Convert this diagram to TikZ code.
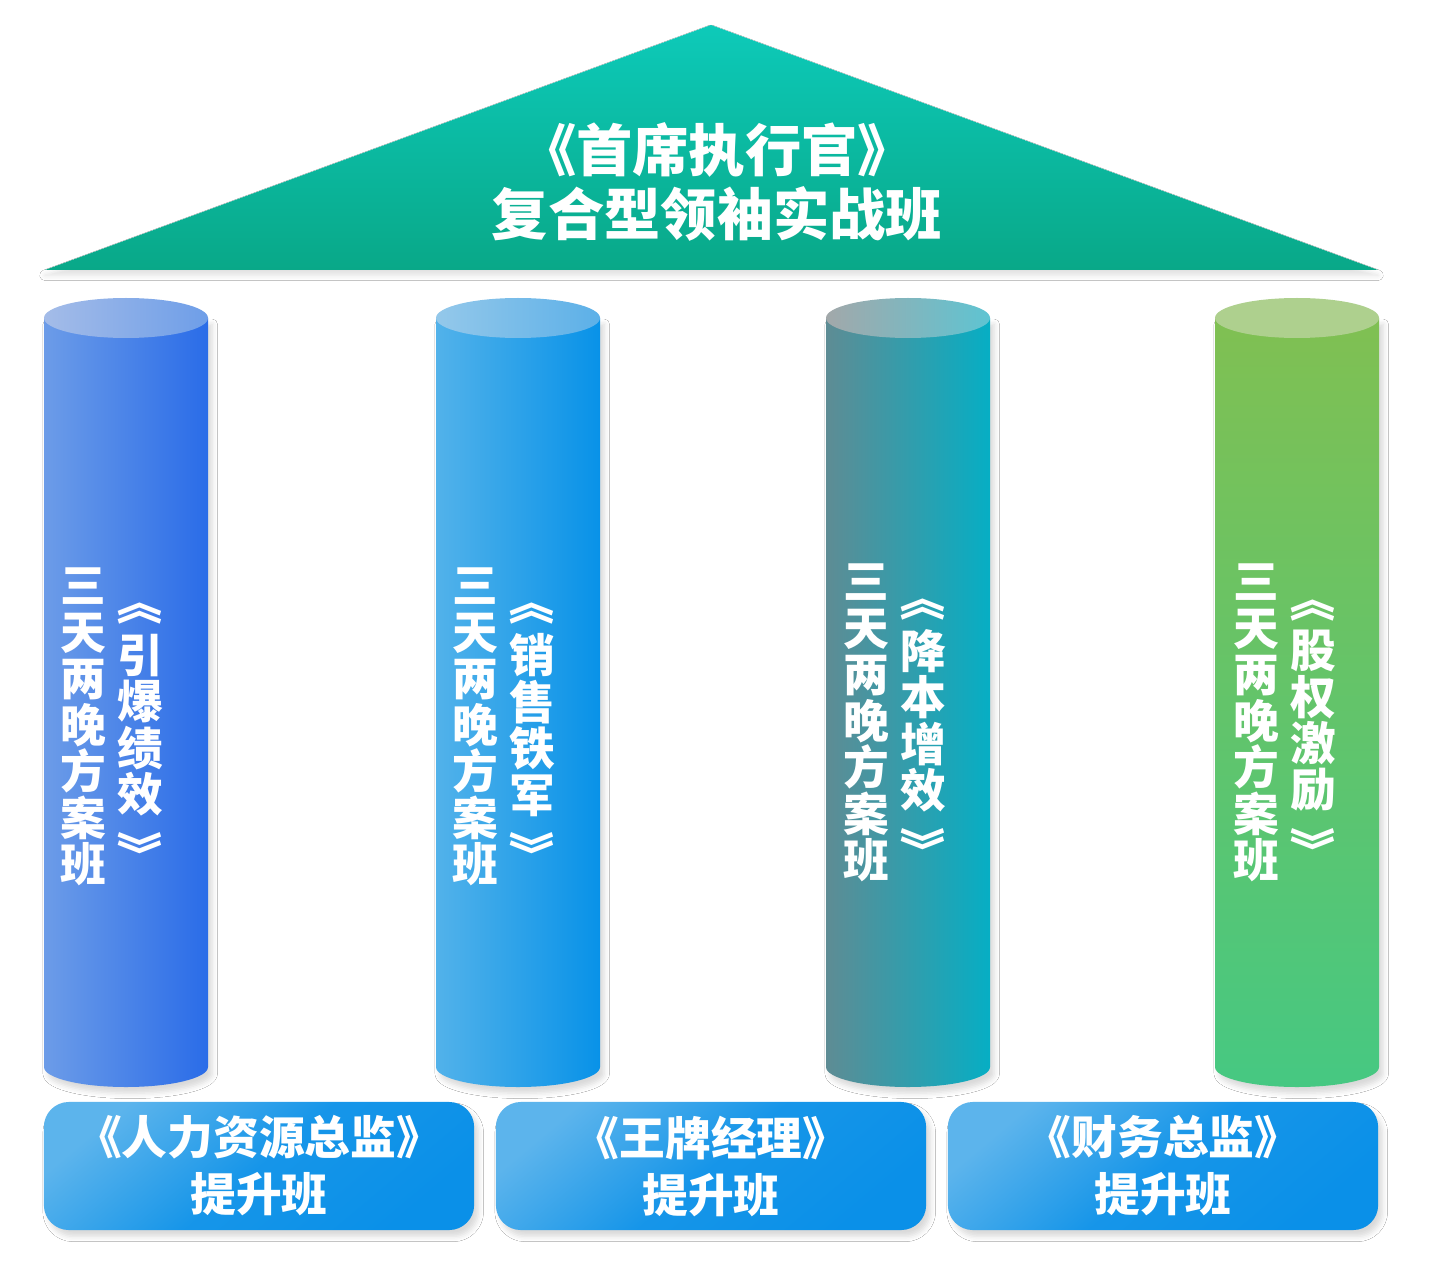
\documentclass[tikz,border=0pt]{standalone}
\usepackage{fontspec}
\setmainfont{Noto Sans CJK SC}
\usetikzlibrary{shadows.blur,positioning}

\definecolor{rooftop}{HTML}{0DCAB9}
\definecolor{roofbot}{HTML}{09A888}
\definecolor{sideAl}{HTML}{6C9CE8}
\definecolor{sideAr}{HTML}{2A6CE8}
\definecolor{capAl}{HTML}{A4BCE8}
\definecolor{capAr}{HTML}{6E9EE8}
\definecolor{sideBl}{HTML}{52B2EA}
\definecolor{sideBr}{HTML}{0892E8}
\definecolor{capBl}{HTML}{94C8EA}
\definecolor{capBr}{HTML}{5CB0E8}
\definecolor{sideCl}{HTML}{5E8C94}
\definecolor{sideCr}{HTML}{06AEC4}
\definecolor{capCl}{HTML}{A2A8AA}
\definecolor{capCr}{HTML}{5EC4D2}
\definecolor{sideDt}{HTML}{80C052}
\definecolor{sideDb}{HTML}{46C882}
\definecolor{capD}{HTML}{AED08E}
\definecolor{boxlt}{HTML}{5CB4EC}
\definecolor{boxdk}{HTML}{0A90E8}

\tikzset{
  colshadow/.style={blur shadow={shadow xshift=1.2pt,shadow yshift=-1.8pt,shadow opacity=15,shadow blur steps=4,shadow blur radius=1.5pt}},
  side1/.style={left color=sideAl,right color=sideAr},
  cap1/.style={left color=capAl,right color=capAr},
  side2/.style={left color=sideBl,right color=sideBr},
  cap2/.style={left color=capBl,right color=capBr},
  side3/.style={left color=sideCl,right color=sideCr},
  cap3/.style={left color=capCl,right color=capCr},
  side4/.style={top color=sideDt,bottom color=sideDb},
  cap4/.style={left color=capD,right color=capD},
  vtext/.style={text=white,align=center,inner sep=0pt,font=\fontsize{13}{13.2}\selectfont\bfseries},
  vbrk/.style={vtext,rotate=-90},
  pbox/.style={rounded corners=0.25cm,top color=boxlt,bottom color=boxdk,middle color=boxdk!85!boxlt,shading angle=40,
    minimum width=4.3cm,minimum height=1.28cm,text=white,align=center,
    font=\fontsize{13}{16.2}\selectfont\bfseries,colshadow},
}

\begin{document}
\begin{tikzpicture}[x=0.01cm,y=0.01cm]
  \fill[white] (0,0) rectangle (1437,1284);
  \useasboundingbox (0,0) rectangle (1437,1284);

  % roof
  \shade[top color=rooftop,bottom color=roofbot,
    blur shadow={shadow xshift=0pt,shadow yshift=-1.5pt,shadow opacity=12,shadow blur steps=4,shadow blur radius=1.5pt}]
    (45,1014) -- (711,1259) -- (1378,1014) -- cycle;
  \node[text=white,align=center,font=\fontsize{16}{18}\selectfont\bfseries] (roof) at (717,1102)
    {《首席执行官》\\复合型领袖实战班};

  % columns
  \foreach \i/\cx in {1/126,2/518,3/908,4/1297}
  {
    \shade[side\i,colshadow] (\cx-82,966) -- (\cx-82,217)
      arc[start angle=180,end angle=360,x radius=82,y radius=20] -- (\cx+82,966) -- cycle;
    \shade[cap\i] (\cx,966) ellipse (82 and 20);
  }

  \node[vtext] (plan1) at (83,557) {三\\天\\两\\晚\\方\\案\\班};
  \node[vtext] (perf) at (140,559) {引\\爆\\绩\\效};
  \node[vbrk,above=2pt of perf,anchor=east] (perfo) {《};
  \node[vbrk,below=4pt of perf,anchor=west] (perfc) {》};

  \node[vtext] (plan2) at (475,557) {三\\天\\两\\晚\\方\\案\\班};
  \node[vtext] (sales) at (532,559) {销\\售\\铁\\军};
  \node[vbrk,above=2pt of sales,anchor=east] (saleso) {《};
  \node[vbrk,below=4pt of sales,anchor=west] (salesc) {》};

  \node[vtext] (plan3) at (866,561) {三\\天\\两\\晚\\方\\案\\班};
  \node[vtext] (cost) at (923,563) {降\\本\\增\\效};
  \node[vbrk,above=2pt of cost,anchor=east] (costo) {《};
  \node[vbrk,below=4pt of cost,anchor=west] (costc) {》};

  \node[vtext] (plan4) at (1256,561) {三\\天\\两\\晚\\方\\案\\班};
  \node[vtext] (equity) at (1313,563) {股\\权\\激\\励};
  \node[vbrk,above=2pt of equity,anchor=east] (equityo) {《};
  \node[vbrk,below=4pt of equity,anchor=west] (equityc) {》};

  % base boxes
  \node[pbox] (hr) at (259,118) {《人力资源总监》\\提升班};
  \node[pbox] (mgr) at (711,118) {《王牌经理》\\提升班};
  \node[pbox] (cfo) at (1163,118) {《财务总监》\\提升班};
\end{tikzpicture}
\end{document}
